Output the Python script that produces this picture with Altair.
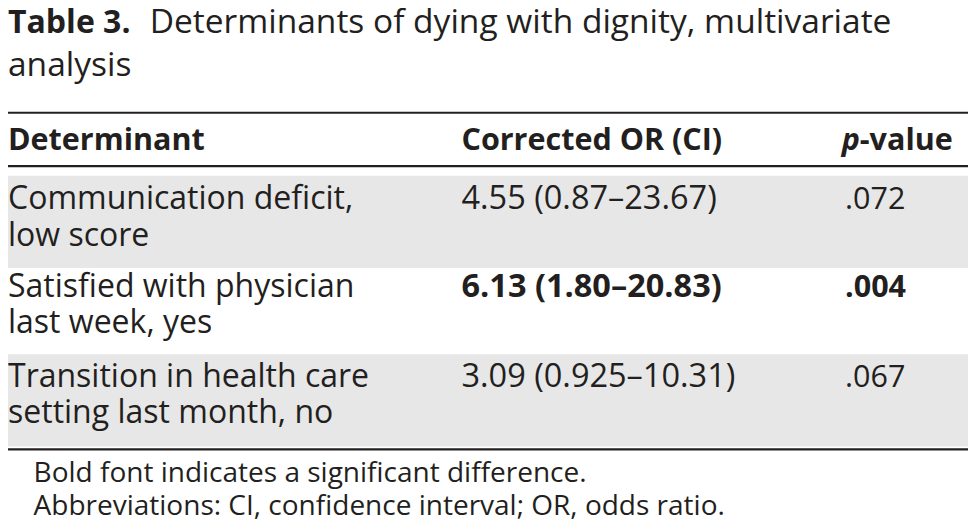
import altair as alt
import pandas as pd

# ---- table content ----
title_label = "Table 3."
title_line1 = "Determinants of dying with dignity, multivariate"
title_line2 = "analysis"
header_determinant = "Determinant"
header_or = "Corrected OR (CI)"
header_p = "p"
header_value = "-value"
determinants = [
    ["Communication deficit,", "low score"],
    ["Satisfied with physician", "last week, yes"],
    ["Transition in health care", "setting last month, no"],
]
odds_ratios = ["4.55 (0.87–23.67)", "6.13 (1.80–20.83)", "3.09 (0.925–10.31)"]
p_values = [".072", ".004", ".067"]
significant = [False, True, False]
footnotes = [
    "Bold font indicates a significant difference.",
    "Abbreviations: CI, confidence interval; OR, odds ratio.",
]

# ---- layout (reference pixel frame) ----
W, H = 976, 532
FONT = "Open Sans"
FS_LABEL = 32
FS_TITLE = 33.5
FS_HEAD = 30.5
FS_BODY = 32
FS_OR = 32.5
FS_P = 30.5
FS_NOTE = 28
INK = "#231f20"
BAND = "#e7e7e7"
col_x = [0, 461, 848]
p_split = 866
row_top = [173, 268, 357]
row_bottom = [268, 357, 452]
line1_y = [207, 298, 391]
line2_y = [245, 335, 428]
rules_y = [108, 163, 455]

xs = alt.Scale(domain=[0, W], nice=False, zero=False)
ys = alt.Scale(domain=[0, H], nice=False, zero=False, reverse=True)


def X(f="x"):
    return alt.X(f"{f}:Q", scale=xs, axis=None)


def Y(f="y"):
    return alt.Y(f"{f}:Q", scale=ys, axis=None)


bands = pd.DataFrame(
    [
        {"x": 0, "x2": W, "y": row_top[i], "y2": row_bottom[i]}
        for i in range(len(determinants))
        if i % 2 == 0
    ]
)
band_layer = alt.Chart(bands).mark_rect(color=BAND).encode(
    x=X(), x2="x2:Q", y=Y(), y2="y2:Q"
)

rules = pd.DataFrame({"x": [0] * 3, "x2": [W] * 3, "y": rules_y})
rule_layer = alt.Chart(rules).mark_rule(color=INK, strokeWidth=2.2).encode(
    x=X(), x2="x2:Q", y=Y()
)

normal_rows, bold_rows = [], []
bold_rows.append({"x": 0, "y": 26, "t": title_label, "s": FS_LABEL})
normal_rows.append({"x": 144, "y": 26, "t": title_line1, "s": FS_TITLE})
normal_rows.append({"x": 0, "y": 70, "t": title_line2, "s": FS_TITLE})
bold_rows.append({"x": col_x[0], "y": 146, "t": header_determinant, "s": FS_HEAD})
bold_rows.append({"x": col_x[1], "y": 146, "t": header_or, "s": FS_HEAD})
bold_rows.append({"x": p_split, "y": 146, "t": header_value, "s": FS_HEAD})
for i, det in enumerate(determinants):
    normal_rows.append({"x": col_x[0], "y": line1_y[i], "t": det[0], "s": FS_BODY})
    normal_rows.append({"x": col_x[0], "y": line2_y[i], "t": det[1], "s": FS_BODY})
    target = bold_rows if significant[i] else normal_rows
    target.append({"x": col_x[1], "y": line1_y[i], "t": odds_ratios[i], "s": FS_OR})
    target.append({"x": col_x[2] + 3, "y": line1_y[i], "t": p_values[i], "s": FS_P})
normal_rows.append({"x": 26, "y": 489, "t": footnotes[0], "s": FS_NOTE})
normal_rows.append({"x": 26, "y": 523, "t": footnotes[1], "s": FS_NOTE})

text_kw = dict(align="left", baseline="alphabetic", font=FONT, color=INK)
enc = dict(x=X(), y=Y(), text="t:N", size=alt.Size("s:Q", scale=None, legend=None))
normal_layer = alt.Chart(pd.DataFrame(normal_rows)).mark_text(**text_kw).encode(**enc)
bold_layer = alt.Chart(pd.DataFrame(bold_rows)).mark_text(fontWeight="bold", **text_kw).encode(**enc)
p_layer = alt.Chart(
    pd.DataFrame([{"x": p_split, "y": 146, "t": header_p, "s": FS_HEAD}])
).mark_text(fontWeight="bold", fontStyle="italic", **{**text_kw, "align": "right"}).encode(**enc)

chart = (
    alt.layer(band_layer, rule_layer, normal_layer, bold_layer, p_layer)
    .properties(
        width=960,
        height=516,
        padding=0,
        background="white",
        autosize=alt.AutoSizeParams(type="none"),
    )
    .configure_view(stroke=None)
)

chart.save("out.html", embed_options={"renderer": "svg", "actions": False})
